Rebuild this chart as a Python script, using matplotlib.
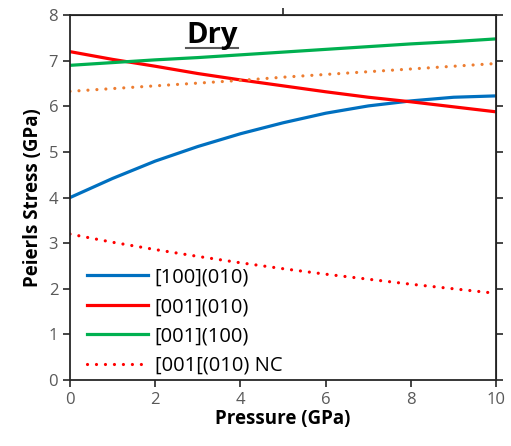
import matplotlib.pyplot as plt
from matplotlib.lines import Line2D

plt.rcParams['font.family'] = ['Open Sans', 'DejaVu Sans']

pressure = [0, 1, 2, 3, 4, 5, 6, 7, 8, 9, 10]
blue_100_010 = [4.0, 4.42, 4.8, 5.12, 5.4, 5.64, 5.85, 6.01, 6.12, 6.2, 6.23]
red_001_010 = [7.2, 7.03, 6.88, 6.72, 6.58, 6.45, 6.32, 6.2, 6.1, 5.99, 5.88]
green_001_100 = [6.9, 6.96, 7.02, 7.07, 7.13, 7.19, 7.25, 7.31, 7.37, 7.42, 7.48]
orange_dotted = [6.33, 6.39, 6.45, 6.51, 6.57, 6.64, 6.70, 6.76, 6.82, 6.88, 6.94]
red_nc = [3.2, 3.02, 2.86, 2.71, 2.57, 2.44, 2.32, 2.21, 2.1, 2.0, 1.9]

labels = ['[100](010)', '[001](010)', '[001](100)', '[001[(010) NC']

fig = plt.figure(figsize=(5.11, 4.46), dpi=100)
ax = fig.add_axes([0.137, 0.148, 0.834, 0.818])

lw = 2.3
dots = (0, (0.01, 2.8))
ax.plot(pressure, blue_100_010, color='#0070C0', lw=lw, label=labels[0])
ax.plot(pressure, red_001_010, color='#FF0000', lw=lw, label=labels[1])
ax.plot(pressure, green_001_100, color='#00B050', lw=lw, label=labels[2])
ax.plot(pressure, orange_dotted, color='#ED7D31', lw=lw, ls=dots,
        dash_capstyle='round')
ax.plot(pressure, red_nc, color='#FF0000', lw=lw, ls=dots,
        dash_capstyle='round', label=labels[3])

ax.set_xlim(0, 10)
ax.set_ylim(0, 8)
ax.set_xticks(range(0, 11, 2))
ax.set_yticks(range(0, 9))
ax.tick_params(labelsize=12, colors='#595959', length=5, width=1.2)
ax.tick_params(axis='both', color='#262626')
for s in ax.spines.values():
    s.set_linewidth(1.3)
    s.set_color('#262626')

# secondary ticks on top and right spines
top = ax.secondary_xaxis('top')
top.set_xticks([5])
top.set_xticklabels([])
top.tick_params(length=5, width=1.2, color='#262626')
right = ax.secondary_yaxis('right')
right.set_yticks(range(0, 9))
right.set_yticklabels([])
right.tick_params(length=5, width=1.2, color='#262626')

ax.set_xlabel('Pressure (GPa)', fontsize=13.5, fontweight='bold', labelpad=1)
ax.set_ylabel('Peierls Stress (GPa)', fontsize=13.5, fontweight='bold', labelpad=4)

ax.legend(loc='lower left', bbox_to_anchor=(0.012, -0.022), frameon=False,
          fontsize=14.5, handlelength=3.0, handletextpad=0.35,
          labelspacing=0.47, borderaxespad=0.2)

t = ax.text(3.33, 7.56, 'Dry', fontsize=21, fontweight='bold', ha='center',
            va='center')
fig.canvas.draw()
bb = t.get_window_extent().transformed(ax.transAxes.inverted())
ax.add_line(Line2D([bb.x0, bb.x1], [bb.y0 + 0.005, bb.y0 + 0.005],
                   transform=ax.transAxes, color='#595959', lw=1.5))

fig.savefig('out.png', dpi=100)
